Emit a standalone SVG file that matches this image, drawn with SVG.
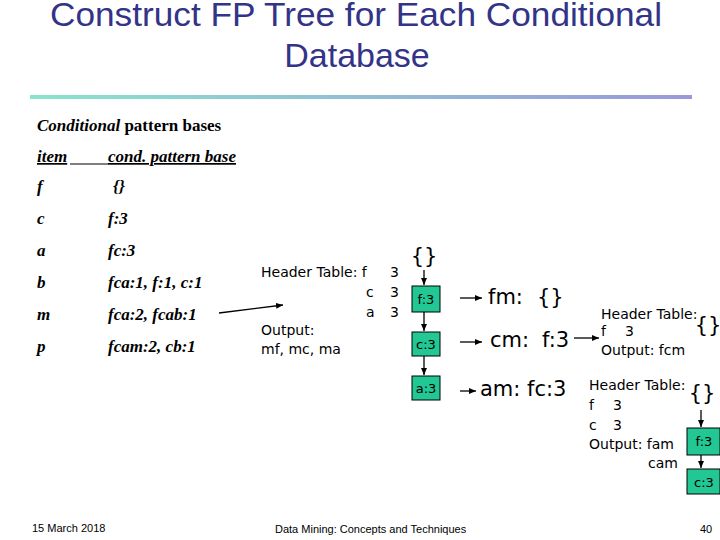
<svg xmlns="http://www.w3.org/2000/svg" width="720" height="540" viewBox="0 0 720 540">
<defs>
<linearGradient id="rule" x1="0" x2="1"><stop offset="0" stop-color="#88e4cc"/><stop offset="1" stop-color="#9a98dc"/></linearGradient>
<marker id="ah" markerWidth="8" markerHeight="8" refX="7" refY="4" orient="auto" markerUnits="userSpaceOnUse"><path d="M0,1 L7,4 L0,7 z" fill="#000"/></marker>
<style>
.t{font-family:"Liberation Sans",Arial,sans-serif;fill:#333388;font-size:34px;text-anchor:middle}
.s{font-family:"Liberation Serif","Times New Roman",serif;font-size:17px;font-weight:bold;font-style:italic;fill:#000}
.v{font-family:"DejaVu Sans",Verdana,sans-serif;font-size:14px;fill:#000}
.b{font-family:"DejaVu Sans",Verdana,sans-serif;font-size:21px;fill:#000}
.box{fill:#22c793;stroke:#000;stroke-width:1}
.bt{font-family:"DejaVu Sans",Verdana,sans-serif;font-size:13px;fill:#000;text-anchor:middle}
.c{stroke:#000;stroke-width:1.3;fill:none;marker-end:url(#ah)}
.f{font-family:"Liberation Sans",Arial,sans-serif;font-size:11px;fill:#000}
</style>
</defs>
<text class="t" x="356" y="26" textLength="612" lengthAdjust="spacingAndGlyphs">Construct FP Tree for Each Conditional</text>
<text class="t" x="357" y="67">Database</text>
<rect x="30" y="95" width="662" height="4" fill="url(#rule)"/>
<g id="table">
<text class="s" x="37" y="131"><tspan>Conditional</tspan><tspan font-style="normal"> pattern bases</tspan></text>
<text class="s" x="37" y="162" text-decoration="underline">item</text>
<line x1="70" y1="164" x2="108" y2="164" stroke="#000" stroke-width="1"/>
<text class="s" x="108" y="162" text-decoration="underline">cond. pattern base</text>
<text class="s" x="37" y="192">f</text><text class="s" x="113" y="192" font-weight="normal">{}</text>
<text class="s" x="37" y="224">c</text><text class="s" x="108" y="224">f:3</text>
<text class="s" x="37" y="256">a</text><text class="s" x="108" y="256">fc:3</text>
<text class="s" x="37" y="288">b</text><text class="s" x="108" y="288">fca:1, f:1, c:1</text>
<text class="s" x="37" y="320">m</text><text class="s" x="108" y="320">fca:2, fcab:1</text>
<text class="s" x="37" y="352">p</text><text class="s" x="108" y="352">fcam:2, cb:1</text>
</g>
<g id="mtree-info">
<text class="v" x="261" y="277">Header Table: f</text><text class="v" x="390" y="277">3</text>
<text class="v" x="366" y="297">c</text><text class="v" x="390" y="297">3</text>
<text class="v" x="366" y="317">a</text><text class="v" x="390" y="317">3</text>
<text class="v" x="261" y="335">Output:</text>
<text class="v" x="261" y="354">mf, mc, ma</text>
</g>
<g id="root1"><text class="b" x="424" y="263" text-anchor="middle">{}</text></g>
<g id="f3"><rect class="box" x="412" y="286" width="28" height="26"/><text class="bt" x="426" y="304">f:3</text></g>
<g id="c3"><rect class="box" x="412" y="332" width="28" height="24"/><text class="bt" x="426" y="349">c:3</text></g>
<g id="a3"><rect class="box" x="412" y="376" width="28" height="24"/><text class="bt" x="426" y="393">a:3</text></g>
<g id="labels">
<text class="b" x="488" y="304">fm:</text><text class="b" x="537" y="304">{}</text>
<text class="b" x="490" y="347">cm:</text><text class="b" x="542" y="347">f:3</text>
<text class="b" x="480" y="396">am: fc:3</text>
</g>
<g id="cm-info">
<text class="v" x="601" y="319">Header Table:</text>
<text class="b" x="708" y="332" text-anchor="middle">{}</text>
<text class="v" x="601" y="336">f</text><text class="v" x="625" y="336">3</text>
<text class="v" x="601" y="355">Output: fcm</text>
</g>
<g id="am-info">
<text class="v" x="589" y="390">Header Table:</text>
<text class="b" x="702" y="400" text-anchor="middle">{}</text>
<text class="v" x="589" y="410">f</text><text class="v" x="613" y="410">3</text>
<text class="v" x="589" y="430">c</text><text class="v" x="613" y="430">3</text>
<text class="v" x="589" y="449">Output: fam</text>
<text class="v" x="648" y="468">cam</text>
</g>
<g id="f3b"><rect class="box" x="687" y="428" width="33" height="27"/><text class="bt" x="704" y="446">f:3</text></g>
<g id="c3b"><rect class="box" x="687" y="469" width="33" height="25"/><text class="bt" x="704" y="487">c:3</text></g>
<g id="connectors">
<line class="c" x1="219" y1="313" x2="283" y2="305"/>
<line class="c" x1="424" y1="270" x2="424" y2="285"/>
<line class="c" x1="424" y1="312" x2="424" y2="331"/>
<line class="c" x1="424" y1="356" x2="424" y2="375"/>
<line class="c" x1="460" y1="298" x2="482" y2="298"/>
<line class="c" x1="460" y1="342" x2="482" y2="342"/>
<line class="c" x1="460" y1="391" x2="476" y2="391"/>
<line class="c" x1="574" y1="338" x2="599" y2="338"/>
<line class="c" x1="701" y1="410" x2="701" y2="427"/>
<line class="c" x1="701" y1="455" x2="701" y2="468"/>
</g>
<text class="f" x="32" y="532">15 March 2018</text>
<text class="f" x="275" y="533">Data Mining: Concepts and Techniques</text>
<text class="f" x="700" y="533">40</text>
</svg>
